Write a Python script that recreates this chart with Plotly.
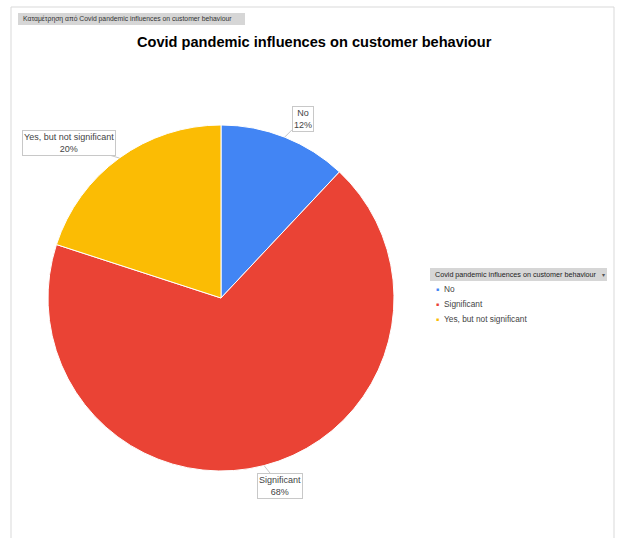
import math
import plotly.graph_objects as go

labels = ["No", "Significant", "Yes, but not significant"]
values = [12, 68, 20]
colors = ["#4285F4", "#EA4335", "#FBBC04"]
title = "Covid pandemic influences on customer behaviour"
field_label = "Καταμέτρηση από Covid pandemic influences on customer behaviour"
legend_title = "Covid pandemic influences on customer behaviour"

W, H = 617, 538
cx, cy, r = 221, 298, 173  # pie centre / radius in pixels

fig = go.Figure(go.Pie(
    labels=labels, values=values, sort=False, direction="clockwise", rotation=0,
    marker=dict(colors=colors, line=dict(color="white", width=1)),
    textinfo="none", hoverinfo="label+percent", showlegend=False,
    domain=dict(x=[(cx - r) / W, (cx + r) / W], y=[1 - (cy + r) / H, 1 - (cy - r) / H]),
))

frame = dict(color="#d9d9d9", width=1)
shapes = [
    dict(type="line", xref="paper", yref="paper", x0=11/W, x1=11/W, y0=0, y1=1-7/H, line=frame),
    dict(type="line", xref="paper", yref="paper", x0=11/W, x1=614/W, y0=1-7/H, y1=1-7/H, line=frame),
    dict(type="line", xref="paper", yref="paper", x0=614/W, x1=614/W, y0=0, y1=1-7/H, line=frame),
    dict(type="rect", xref="paper", yref="paper", x0=18/W, x1=245/W, y0=1-25/H, y1=1-13/H,
         fillcolor="#d6d6d6", line=dict(width=0)),
    dict(type="rect", xref="paper", yref="paper", x0=430/W, x1=607/W, y0=1-281/H, y1=1-268/H,
         fillcolor="#d6d6d6", line=dict(width=0)),
]

annotations = [
    dict(text=field_label, xref="paper", yref="paper", x=21/W, y=1-19/H, xanchor="left",
         yanchor="middle", showarrow=False, font=dict(size=6.8, color="#333", family="Liberation Sans")),
    dict(text="<b>" + title + "</b>", xref="paper", yref="paper", x=314/W, y=1-42/H,
         xanchor="center", yanchor="middle", showarrow=False,
         font=dict(size=14.6, color="#000", family="Liberation Sans")),
    dict(text=legend_title, xref="paper", yref="paper",
         x=433/W, y=1-274.5/H, xanchor="left", yanchor="middle", showarrow=False,
         font=dict(size=7.2, color="#222", family="Liberation Sans")),
    dict(text="▾", xref="paper", yref="paper", x=603/W, y=1-274.5/H, xanchor="center",
         yanchor="middle", showarrow=False, font=dict(size=6, color="#555")),
]

for i, (lab, col) in enumerate(zip(labels, colors)):
    yy = 1 - (289 + i * 15) / H
    annotations.append(dict(text="■", xref="paper", yref="paper", x=437/W, y=yy,
                            xanchor="center", yanchor="middle", showarrow=False,
                            font=dict(size=5, color=col)))
    annotations.append(dict(text=lab, xref="paper", yref="paper", x=442/W, y=yy,
                            xanchor="left", yanchor="middle", showarrow=False,
                            font=dict(size=8.3, color="#444", family="Liberation Sans")))

offsets = [(18, -18), (16, 20), (-50, -15)]
total = sum(values)
cum = 0
for lab, v, (ax, ay) in zip(labels, values, offsets):
    mid = (cum + v / 2) / total * 2 * math.pi
    cum += v
    px = cx + r * math.sin(mid)
    py = cy - r * math.cos(mid)
    pct = round(v / total * 100)
    annotations.append(dict(
        text=f"{lab}<br>{pct}%", xref="paper", yref="paper", x=px / W, y=1 - py / H,
        ax=ax, ay=ay, showarrow=True, arrowhead=0, arrowwidth=1, arrowcolor="#c8c8c8",
        bordercolor="#c8c8c8", borderwidth=1, borderpad=1, bgcolor="white",
        font=dict(size=9, color="#444", family="Liberation Sans"),
    ))

fig.update_layout(
    width=W, height=H, margin=dict(l=0, r=0, t=0, b=0),
    paper_bgcolor="white", plot_bgcolor="white",
    shapes=shapes, annotations=annotations,
)
fig.write_html("out.html", config={"displayModeBar": False},
               post_script="document.body.style.margin='0';")
